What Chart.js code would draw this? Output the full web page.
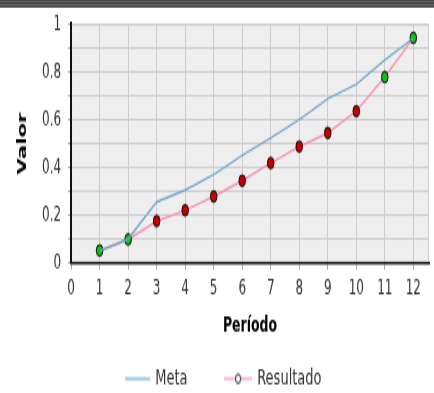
<!DOCTYPE html>
<html>
<head>
<meta charset="utf-8">
<script src="https://cdn.jsdelivr.net/npm/chart.js@4.4.1/dist/chart.umd.min.js"></script>
<style>
  html, body { margin: 0; padding: 0; background: #fff; width: 434px; height: 393px; overflow: hidden; }
  #band { height: 8px; width: 434px; background: linear-gradient(#3a3a3a 0px, #6a6a6a 2px, #2e2e2e 3px, #777 5px, #333 6px, #9a9a9a 8px); }
  #wrap { position: relative; width: 434px; height: 226px; transform: scaleY(1.7035); transform-origin: 0 0; }
</style>
</head>
<body>
<div id="band"></div>
<div id="wrap"><canvas id="c" width="434" height="226"></canvas></div>
<script>
const periods = [1, 2, 3, 4, 5, 6, 7, 8, 9, 10, 11, 12];
const meta = [0.05, 0.10, 0.255, 0.305, 0.37, 0.45, 0.523, 0.60, 0.687, 0.748, 0.85, 0.94];
const resultado = [0.052, 0.098, 0.175, 0.22, 0.278, 0.344, 0.418, 0.487, 0.544, 0.635, 0.778, 0.942];
const xTicks = [0, 1, 2, 3, 4, 5, 6, 7, 8, 9, 10, 11, 12];
const yTicks = [0, 0.1, 0.2, 0.3, 0.4, 0.5, 0.6, 0.7, 0.8, 0.9, 1];
const yLabels = ['0', '', '0.2', '', '0.4', '', '0.6', '', '0.8', '', '1'];
const seriesNames = ['Meta', 'Resultado'];

const metaColor = '#6ba4c6';
const resColor = '#f38fa9';
const pointColors = resultado.map((v, i) => (i < 2 || i >= 10) ? '#10c010' : '#c80000');

const ICON_W = 64;
function icon(withCircle, color) {
  const c = document.createElement('canvas');
  c.width = ICON_W; c.height = 8;
  const g = c.getContext('2d');
  const start = withCircle ? ICON_W - 28 : ICON_W - 25;
  g.strokeStyle = color; g.lineWidth = 1.2;
  g.beginPath(); g.moveTo(start, 4); g.lineTo(ICON_W, 4); g.stroke();
  if (withCircle) {
    g.fillStyle = '#fff'; g.strokeStyle = '#222'; g.lineWidth = 1;
    g.beginPath(); g.arc(start + 14, 4, 2.6, 0, Math.PI * 2); g.fill(); g.stroke();
  }
  return c;
}

const bgPlugin = {
  id: 'bg',
  beforeDraw(chart) {
    const a = chart.chartArea, ctx = chart.ctx;
    ctx.save();
    ctx.fillStyle = '#eeeeee';
    ctx.fillRect(a.left, a.top, a.right - a.left, a.bottom - a.top);
    ctx.strokeStyle = '#cccccc'; ctx.lineWidth = 1;
    ctx.strokeRect(a.left + 0.5, a.top + 0.5, a.right - a.left - 1, a.bottom - a.top - 1);
    ctx.restore();
  }
};

// nudge the legend box into the reference's position
const legendShift = {
  id: 'legendShift',
  afterLayout(chart) {
    const l = chart.legend;
    if (!l) return;
    l.left -= 18; l.right -= 18;
    l.top += 8.1; l.bottom += 8.1;
  }
};

const fontFam = "'DejaVu Sans', sans-serif";

new Chart(document.getElementById('c'), {
  type: 'line',
  data: {
    datasets: [
      {
        label: seriesNames[0],
        data: periods.map((p, i) => ({ x: p, y: meta[i] })),
        borderColor: metaColor,
        borderWidth: 1.2,
        pointRadius: 0,
        tension: 0
      },
      {
        label: seriesNames[1],
        data: periods.map((p, i) => ({ x: p, y: resultado[i] })),
        borderColor: resColor,
        borderWidth: 1.2,
        pointRadius: 3.3,
        pointBackgroundColor: pointColors,
        pointBorderColor: '#111',
        pointBorderWidth: 1,
        pointStyle: 'circle',
        tension: 0
      }
    ]
  },
  options: {
    responsive: false,
    animation: false,
    layout: { padding: { top: 9.4, right: 4, left: 15, bottom: 0 } },
    scales: {
      x: {
        type: 'linear',
        min: 0,
        max: 12.55,
        afterBuildTicks(scale) { scale.ticks = xTicks.map(v => ({ value: v })); },
        ticks: { color: '#333', font: { family: fontFam, size: 12 }, padding: 4, callback: v => String(v) },
        grid: { color: '#cccccc', lineWidth: 1, tickLength: 4, tickColor: '#aaa' },
        border: { color: '#111', width: 1.5 },
        title: { display: true, text: 'Período', color: '#000', font: { family: fontFam, size: 12.5, weight: 'bold' }, padding: { top: 3, bottom: 7 } }
      },
      y: {
        min: 0,
        max: 1,
        afterBuildTicks(scale) { scale.ticks = yTicks.map(v => ({ value: v })); },
        afterFit(scale) { scale.paddingTop = 0; scale.paddingBottom = 0; },
        ticks: { color: '#333', font: { family: fontFam, size: 12 }, padding: 7, autoSkip: false,
                 callback: (v, i) => yLabels[i] },
        grid: { color: '#cccccc', lineWidth: 1, tickLength: 3, tickColor: '#aaa' },
        border: { color: '#111', width: 2 },
        title: { display: true, text: 'Valor', color: '#000', font: { family: fontFam, size: 12.5, weight: 'bold' }, padding: { top: 0, bottom: 5 } }
      }
    },
    plugins: {
      legend: {
        position: 'bottom',
        labels: {
          usePointStyle: true,
          pointStyleWidth: 61.2,
          color: '#333',
          font: { family: fontFam, size: 13 },
          padding: 2,
          generateLabels(chart) {
            return chart.data.datasets.map((ds, i) => ({
              text: ds.label,
              pointStyle: i === 0 ? icon(false, metaColor) : icon(true, resColor),
              fillStyle: 'transparent', strokeStyle: 'transparent', lineWidth: 0,
              datasetIndex: i, hidden: false, fontColor: '#333'
            }));
          }
        }
      },
      tooltip: { enabled: false }
    }
  },
  plugins: [bgPlugin, legendShift]
});
</script>
</body>
</html>
